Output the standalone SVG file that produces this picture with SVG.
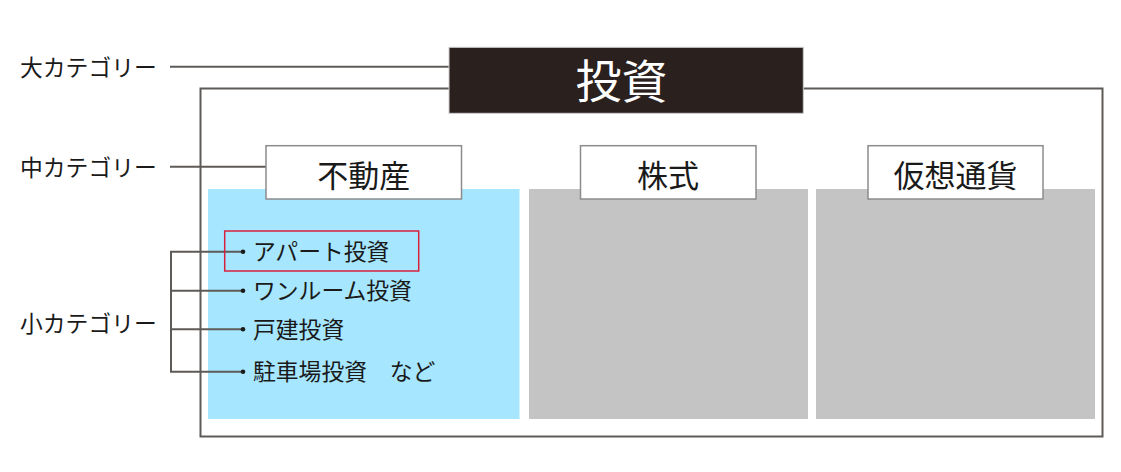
<svg xmlns="http://www.w3.org/2000/svg" width="1121" height="472" viewBox="0 0 1121 472">
<style>
text{font-family:"Noto Sans CJK JP","Noto Sans",sans-serif;fill:#1a1a1a}
.lbl{font-size:22.8px}
.item{font-size:22.8px}
.cat{font-size:31px;text-anchor:middle}
.line{stroke:#5e5a57;stroke-width:2;fill:none}
.cbox{fill:#fff;stroke:#8c8c8c;stroke-width:1.5}
</style>
<rect width="1121" height="472" fill="#fff"/>
<g id="labels">
<text class="lbl" x="20" y="75.5">大カテゴリー</text>
<text class="lbl" x="20" y="175.5">中カテゴリー</text>
<text class="lbl" x="20" y="332">小カテゴリー</text>
</g>
<g id="frame">
<rect x="200.5" y="88.5" width="902" height="348" fill="none" stroke="#5e5a57" stroke-width="2"/>
</g>
<g id="panels">
<rect x="208" y="189" width="311.5" height="230" fill="#a6e6fe"/>
<rect x="529" y="189" width="279" height="230" fill="#c4c4c4"/>
<rect x="816" y="189" width="279" height="230" fill="#c4c4c4"/>
</g>
<g id="connectors">
<line class="line" x1="170" y1="66.7" x2="449" y2="66.7"/>
<line class="line" x1="170" y1="166.7" x2="266" y2="166.7"/>
<polyline class="line" points="243,251.7 171,251.7 171,371.7 243,371.7"/>
<line class="line" x1="171" y1="290.7" x2="243" y2="290.7"/>
<line class="line" x1="171" y1="329.3" x2="243" y2="329.3"/>
<circle cx="243" cy="251.7" r="2.3" fill="#1a1a1a"/>
<circle cx="243" cy="290.7" r="2.3" fill="#1a1a1a"/>
<circle cx="243" cy="329.3" r="2.3" fill="#1a1a1a"/>
<circle cx="243" cy="371.7" r="2.3" fill="#1a1a1a"/>
</g>
<g id="top-node">
<rect x="449" y="47.3" width="354.3" height="66" fill="#2a201e" stroke="#cfcfcf" stroke-width="1"/>
<text x="621.5" y="98" font-size="46" text-anchor="middle" style="fill:#fff">投資</text>
</g>
<g id="node-realestate">
<rect class="cbox" x="266" y="145.7" width="195.5" height="53.3"/>
<text class="cat" x="363.7" y="186.5">不動産</text>
</g>
<g id="node-stock">
<rect class="cbox" x="580.5" y="145.7" width="175.5" height="53.3"/>
<text class="cat" x="668" y="186.5">株式</text>
</g>
<g id="node-crypto">
<rect class="cbox" x="868" y="145.7" width="175" height="53.3"/>
<text class="cat" x="955.5" y="186.5">仮想通貨</text>
</g>
<g id="items">
<rect x="224.7" y="231" width="194" height="40" fill="none" stroke="#d7213c" stroke-width="1.5"/>
<text class="item" x="253" y="259.8">アパート投資</text>
<text class="item" x="253" y="299.3">ワンルーム投資</text>
<text class="item" x="253" y="337.8">戸建投資</text>
<text class="item" x="253" y="380.3">駐車場投資　など</text>
</g>
</svg>
